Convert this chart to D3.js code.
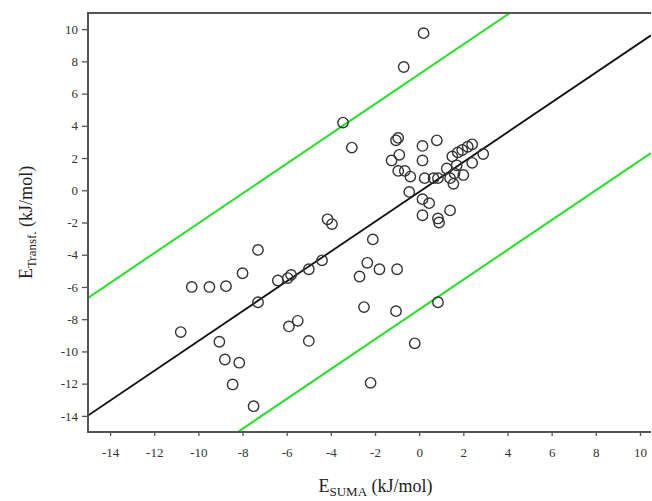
<!DOCTYPE html>
<html>
<head>
<meta charset="utf-8">
<script src="https://cdn.jsdelivr.net/npm/d3@7"></script>
<style>
  body { margin: 0; background: #fff; }
  svg { display: block; }
</style>
</head>
<body>
<script>
// E_SUMA vs E_Transf. values (kJ/mol)
const eSuma = [
  -10.8, -10.3, -9.5, -8.75, -8.0, -7.3, -7.3, -9.05, -8.8, -8.15, -8.45, -7.5,
  -6.4, -5.95, -5.8, -5.9, -5.5, -5.0, -5.0, -4.4, -4.15, -3.95, -2.1, -2.35,
  -1.8, -2.7, -1.0, -2.5, -1.05, 0.85, -0.2, -2.2,
  0.2, -0.7, -3.45, -3.05, -0.95, -1.05, 0.15, 0.8, -0.9, -1.25, 0.15, -0.95,
  -0.65, -0.4, 0.25, 0.65, 0.85, 1.25, 1.4, 1.5, 1.75, 1.95, 2.2, 2.4, 2.4,
  2.9, 2.0, 1.6, 1.55, 1.7, -0.45, 0.15, 0.45, 0.15, 1.4, 0.85, 0.9
];
const eTransf = [
  -8.8, -6.0, -6.0, -5.95, -5.15, -3.7, -6.95, -9.4, -10.5, -10.7, -12.05, -13.4,
  -5.6, -5.45, -5.25, -8.45, -8.1, -9.35, -4.9, -4.35, -1.8, -2.1, -3.05, -4.5,
  -4.9, -5.35, -4.9, -7.25, -7.5, -6.95, -9.5, -11.95,
  9.75, 7.65, 4.2, 2.65, 3.25, 3.1, 2.75, 3.1, 2.2, 1.85, 1.85, 1.2,
  1.2, 0.85, 0.75, 0.75, 0.75, 1.35, 0.75, 2.1, 2.35, 2.5, 2.7, 2.85, 1.7,
  2.25, 0.95, 1.05, 0.4, 1.55, -0.1, -0.55, -0.8, -1.55, -1.25, -1.75, -2.0
];
const xTicks = [-14, -12, -10, -8, -6, -4, -2, 0, 2, 4, 6, 8, 10];
const yTicks = [-14, -12, -10, -8, -6, -4, -2, 0, 2, 4, 6, 8, 10];
// fit line and the +/- band around it
const fitSlope = 0.925;
const fitIntercept = -0.1;
const bandOffset = 7.3;

const width = 652, height = 501;
const margin = { top: 13, right: 1, bottom: 69, left: 88 };

const x = d3.scaleLinear().domain([-15, 10.5]).range([margin.left, width - margin.right]);
const y = d3.scaleLinear().domain([-15, 11]).range([height - margin.bottom, margin.top]);

const svg = d3.select("body").append("svg")
  .attr("width", width)
  .attr("height", height)
  .style("font-family", "'Liberation Serif', 'DejaVu Serif', serif");

svg.append("defs").append("clipPath").attr("id", "plotclip")
  .append("rect")
  .attr("x", x.range()[0]).attr("y", y.range()[1])
  .attr("width", x.range()[1] - x.range()[0])
  .attr("height", y.range()[0] - y.range()[1]);

const plot = svg.append("g").attr("clip-path", "url(#plotclip)");

const lineFor = (off) => [x.domain()[0], x.domain()[1]].map(v => [v, fitSlope * v + fitIntercept + off]);
const lineGen = d3.line().x(d => x(d[0])).y(d => y(d[1]));

plot.selectAll("path.band")
  .data([bandOffset, -bandOffset])
  .join("path")
  .attr("class", "band")
  .attr("d", d => lineGen(lineFor(d)))
  .attr("fill", "none")
  .attr("stroke", "#22e022")
  .attr("stroke-width", 2);

plot.append("path")
  .attr("d", lineGen(lineFor(0)))
  .attr("fill", "none")
  .attr("stroke", "#111")
  .attr("stroke-width", 1.8);

plot.append("g")
  .selectAll("circle")
  .data(d3.range(eSuma.length))
  .join("circle")
  .attr("cx", i => x(eSuma[i]))
  .attr("cy", i => y(eTransf[i]))
  .attr("r", 5.2)
  .attr("fill", "none")
  .attr("stroke", "#333")
  .attr("stroke-width", 1.4);

// axes
const xAxis = svg.append("g")
  .attr("transform", `translate(0,${y.range()[0]})`)
  .call(d3.axisBottom(x).tickValues(xTicks).tickSize(4).tickPadding(12).tickFormat(d3.format("d")));
const yAxis = svg.append("g")
  .attr("transform", `translate(${x.range()[0]},0)`)
  .call(d3.axisLeft(y).tickValues(yTicks).tickSize(6).tickPadding(4).tickFormat(d3.format("d")));

[xAxis, yAxis].forEach(a => {
  a.select(".domain").remove();
  a.selectAll(".tick line").attr("stroke", "#555").attr("stroke-width", 1.3);
  a.selectAll(".tick text")
    .attr("font-family", "'Liberation Serif', serif")
    .attr("font-size", 13)
    .attr("fill", "#333")
    .text(d => d < 0 ? "-" + Math.abs(d) : d);
});

// frame: top, left, bottom
const [x0, x1] = x.range();
const [yb, yt] = y.range();
svg.append("path")
  .attr("d", `M${x1},${yt}H${x0}V${yb}H${x1}`)
  .attr("fill", "none")
  .attr("stroke", "#555")
  .attr("stroke-width", 2);

// axis titles
const xt = svg.append("text")
  .attr("x", (x0 + x1) / 2 + 6)
  .attr("y", 492)
  .attr("text-anchor", "middle")
  .attr("font-size", 18)
  .attr("fill", "#222");
xt.append("tspan").text("E");
xt.append("tspan").attr("font-size", 13).attr("dy", 4).text("SUMA");
xt.append("tspan").attr("dy", -4).text(" (kJ/mol)");

const yt2 = svg.append("text")
  .attr("transform", `translate(32,${(yt + yb) / 2}) rotate(-90)`)
  .attr("text-anchor", "middle")
  .attr("font-size", 18)
  .attr("fill", "#222");
yt2.append("tspan").text("E");
yt2.append("tspan").attr("font-size", 13).attr("dy", 4).text("Transf.");
yt2.append("tspan").attr("dy", -4).text(" (kJ/mol)");
</script>
</body>
</html>
